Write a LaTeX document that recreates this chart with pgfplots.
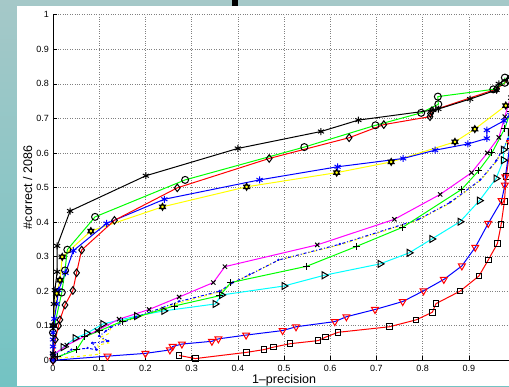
\documentclass[border=0pt]{standalone}
\usepackage{fontspec}
\setmainfont{Liberation Sans}
\usepackage{pgfplots}
\pgfplotsset{compat=1.18}
\definecolor{bgtop}{RGB}{165,200,200}
\definecolor{bgbot}{RGB}{115,195,195}
\definecolor{mred}{RGB}{255,0,0}
\definecolor{mgreen}{RGB}{0,255,0}
\definecolor{mblue}{RGB}{0,0,255}
\definecolor{mcyan}{RGB}{0,255,255}
\definecolor{mmagenta}{RGB}{255,0,255}
\definecolor{myellow}{RGB}{255,255,0}
\pgfdeclareplotmark{hexagram}{%
  \pgfpathmoveto{\pgfqpointpolar{90}{\pgfplotmarksize}}%
  \pgfpathlineto{\pgfqpointpolar{210}{\pgfplotmarksize}}%
  \pgfpathlineto{\pgfqpointpolar{330}{\pgfplotmarksize}}%
  \pgfpathclose
  \pgfpathmoveto{\pgfqpointpolar{270}{\pgfplotmarksize}}%
  \pgfpathlineto{\pgfqpointpolar{30}{\pgfplotmarksize}}%
  \pgfpathlineto{\pgfqpointpolar{150}{\pgfplotmarksize}}%
  \pgfpathclose
  \pgfusepathqfillstroke
}
\begin{document}
\begin{tikzpicture}[x=1pt,y=1pt]
\useasboundingbox (0,0) rectangle (509,386);
\shade[top color=bgtop, bottom color=bgbot] (0,0) rectangle (509,386);
\fill[white] (17,0) rectangle (509,380);
\fill[black] (232.3,380) rectangle (238.3,386);
\begin{scope}
\clip (17,0) rectangle (509,380);
\begin{axis}[
  at={(53pt,25.7pt)}, anchor=south west,
  scale only axis, width=462pt, height=345.6pt,
  xmin=0, xmax=1, ymin=0, ymax=1,
  axis lines*=left,
  axis line style={black, line width=0.8pt},
  tick align=inside,
  major tick length=4pt,
  tick style={black, line width=0.6pt},
  xtick={0,0.1,0.2,0.3,0.4,0.5,0.6,0.7,0.8,0.9},
  ytick={0,0.1,0.2,0.3,0.4,0.5,0.6,0.7,0.8,0.9,1},
  xticklabels={0,0.1,0.2,0.3,0.4,0.5,0.6,0.7,0.8,0.9},
  yticklabels={0,0.1,0.2,0.3,0.4,0.5,0.6,0.7,0.8,0.9,1},
  /pgf/number format/assume math mode=true,
  xticklabel style={font=\fontsize{9}{10}\selectfont, anchor=north, inner sep=0pt, yshift=-4.5pt},
  yticklabel style={font=\fontsize{9}{10}\selectfont, anchor=east, inner sep=0pt, xshift=-4pt},
  grid=major,
  grid style={dotted, black!50, line width=0.6pt},
  xlabel={1–precision},
  ylabel={\#correct / 2086},
  xlabel style={at={(axis description cs:0.5,-0.057)}, anchor=center, font=\fontsize{12.5}{14}\selectfont},
  ylabel style={at={(axis description cs:-0.0548,0.5)}, anchor=center, font=\fontsize{12.5}{14}\selectfont},
  clip=false,
  every axis plot/.append style={line width=1pt},
  every mark/.append style={solid, line width=0.8pt},
]
% grid line at x=1 (cropped)
\addplot[black!50, dotted, line width=0.6pt, forget plot] coordinates {(1,0)(1,1)};
% red squares
\addplot[mred, mark=square, mark size=2.8pt, mark options={black}] coordinates {
(0.273,0.014)(0.308,0.005)(0.419,0.023)(0.457,0.031)(0.477,0.038)(0.513,0.048)(0.574,0.057)(0.59,0.067)(0.617,0.081)(0.728,0.097)(0.786,0.117)(0.821,0.139)(0.829,0.164)(0.881,0.2)(0.922,0.244)(0.942,0.29)(0.962,0.338)(0.97,0.393)(0.977,0.459)(0.981,0.531)(0.99,0.62)};
% blue with red down triangles
\addplot[mblue, mark=triangle, mark size=4pt, mark options={mred, rotate=180}] coordinates {
(0,0.0)(0.118,0.012)(0.2,0.02)(0.253,0.03)(0.259,0.04)(0.279,0.047)(0.344,0.055)(0.358,0.062)(0.418,0.073)(0.497,0.086)(0.526,0.097)(0.61,0.112)(0.635,0.126)(0.697,0.147)(0.757,0.17)(0.802,0.201)(0.846,0.234)(0.885,0.273)(0.914,0.327)(0.942,0.396)(0.971,0.462)(0.978,0.507)(0.979,0.531)(0.99,0.63)};
% cyan right triangles
\addplot[mcyan, mark=triangle, mark size=4pt, mark options={black, rotate=-90}] coordinates {
(0,0.01)(0.022,0.038)(0.048,0.064)(0.073,0.078)(0.108,0.105)(0.181,0.128)(0.24,0.143)(0.351,0.163)(0.365,0.189)(0.5,0.215)(0.587,0.246)(0.708,0.279)(0.771,0.311)(0.82,0.351)(0.881,0.401)(0.923,0.462)(0.959,0.526)(0.975,0.579)(0.975,0.609)(0.99,0.66)};
% yellow dashed
\addplot[myellow, dashed] coordinates {
(0,0.005)(0.06,0.012)(0.102,0.018)(0.097,0.044)(0.12,0.05)(0.102,0.066)(0.12,0.077)(0.127,0.1)(0.18,0.123)(0.273,0.166)(0.361,0.198)(0.39,0.225)(0.426,0.247)(0.488,0.29)(0.621,0.334)(0.79,0.405)(0.86,0.455)(0.925,0.52)(0.96,0.575)(0.985,0.64)};
% blue dash-dot with dots
\addplot[mblue, dashdotted, mark=*, mark size=0.8pt, mark options={mblue}] coordinates {
(0,0.0)(0.04,0.03)(0.075,0.035)(0.095,0.03)(0.085,0.05)(0.12,0.055)(0.1,0.07)(0.115,0.085)(0.125,0.095)(0.18,0.125)(0.273,0.17)(0.361,0.2)(0.39,0.225)(0.426,0.248)(0.488,0.29)(0.621,0.336)(0.79,0.407)(0.86,0.457)(0.925,0.522)(0.96,0.578)(0.985,0.64)};
% green plus
\addplot[mgreen, mark=+, mark size=3.5pt, mark options={black}] coordinates {
(0.01,0.01)(0.051,0.03)(0.069,0.068)(0.1,0.085)(0.15,0.113)(0.262,0.157)(0.361,0.187)(0.385,0.225)(0.549,0.272)(0.656,0.329)(0.757,0.385)(0.885,0.495)(0.921,0.548)(0.95,0.6)(0.978,0.671)(0.99,0.72)};
% magenta x
\addplot[mmagenta, mark=x, mark size=3pt, mark options={black}] coordinates {
(0,0.015)(0.03,0.044)(0.095,0.086)(0.143,0.119)(0.208,0.147)(0.273,0.183)(0.347,0.225)(0.372,0.271)(0.572,0.334)(0.739,0.408)(0.838,0.48)(0.906,0.543)(0.94,0.6)(0.965,0.645)(0.978,0.705)(0.99,0.76)};
% yellow hexagram
\addplot[myellow, mark=hexagram, mark size=3.5pt, mark options={draw=black, fill=myellow}] coordinates {
(0,0.1)(0.008,0.194)(0.015,0.232)(0.02,0.299)(0.082,0.374)(0.237,0.444)(0.419,0.502)(0.614,0.543)(0.732,0.574)(0.87,0.632)(0.913,0.669)(0.98,0.737)};
% blue asterisks
\addplot[mblue, mark=asterisk, mark size=3.5pt, mark options={mblue}] coordinates {
(0,0.0)(0,0.02)(0,0.04)(0,0.06)(0,0.08)(0.002,0.1)(0.003,0.12)(0.008,0.163)(0.012,0.203)(0.027,0.253)(0.044,0.317)(0.116,0.396)(0.241,0.466)(0.447,0.522)(0.616,0.56)(0.758,0.584)(0.827,0.608)(0.898,0.626)(0.939,0.642)(0.939,0.666)(0.976,0.693)(0.99,0.71)};
% red diamonds
\addplot[mred, mark=diamond, mark size=3.8pt, mark options={black}] coordinates {
(0,0.0)(0.005,0.06)(0.012,0.1)(0.015,0.117)(0.026,0.16)(0.043,0.202)(0.051,0.253)(0.062,0.319)(0.133,0.405)(0.269,0.499)(0.468,0.584)(0.641,0.644)(0.716,0.682)(0.816,0.705)(0.817,0.714)(0.82,0.722)(0.96,0.785)(0.985,0.81)};
% green circles
\addplot[mgreen, mark=o, mark size=3.5pt, mark options={black}] coordinates {
(0,0.08)(0.019,0.196)(0.026,0.26)(0.031,0.32)(0.091,0.415)(0.286,0.522)(0.544,0.617)(0.698,0.68)(0.797,0.716)(0.834,0.741)(0.833,0.763)(0.953,0.784)(0.978,0.803)(0.978,0.818)};
% black asterisks
\addplot[black, mark=asterisk, mark size=3.5pt, mark options={black}] coordinates {
(0,0.02)(0.001,0.1)(0.002,0.163)(0.004,0.203)(0.009,0.256)(0.009,0.331)(0.037,0.432)(0.201,0.534)(0.40,0.613)(0.58,0.662)(0.661,0.695)(0.823,0.724)(0.834,0.727)(0.903,0.756)(0.96,0.782)(0.965,0.8)(0.99,0.82)};
\end{axis}
\end{scope}
\end{tikzpicture}
\end{document}
